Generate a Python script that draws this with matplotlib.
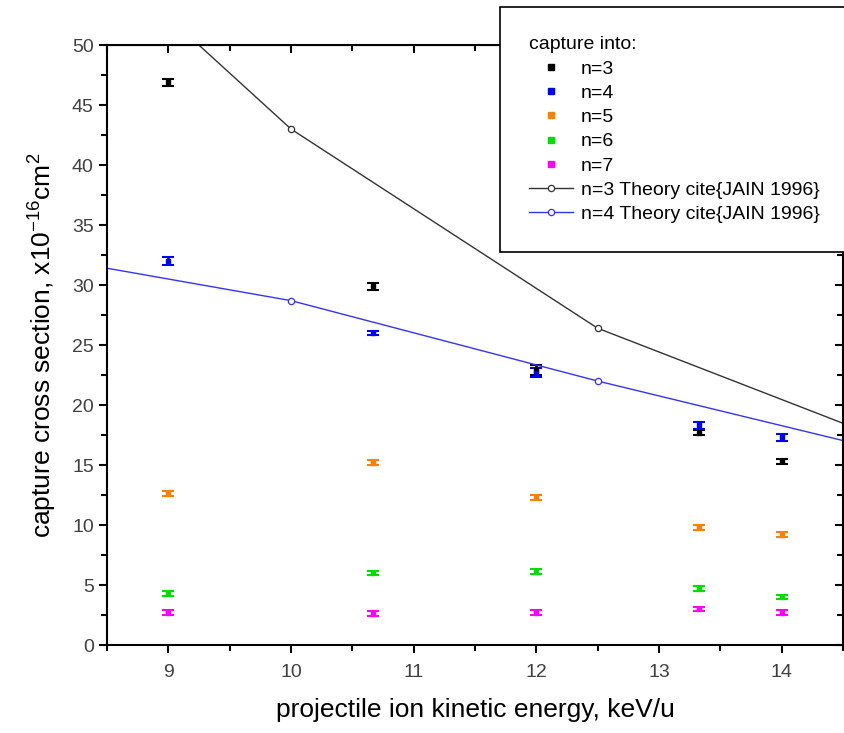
import numpy as np
import matplotlib.pyplot as plt
from matplotlib.lines import Line2D
from matplotlib.ticker import MultipleLocator

plt.rcParams['font.family'] = ['Liberation Sans', 'DejaVu Sans']

# energias medidas (keV/u)
energia = [9.0, 10.67, 12.0, 13.33, 14.0]

# secciones eficaces de captura, x10^-16 cm^2
sigma_n3 = [46.9, 29.9, 22.9, 17.7, 15.3]
sigma_n4 = [32.0, 26.0, 22.7, 18.3, 17.3]
sigma_n5 = [12.6, 15.2, 12.3, 9.8, 9.2]
sigma_n6 = [4.3, 6.0, 6.1, 4.7, 4.0]
sigma_n7 = [2.7, 2.6, 2.7, 3.0, 2.7]

err_n3 = [0.3, 0.3, 0.4, 0.2, 0.2]
err_n4 = [0.3, 0.2, 0.4, 0.3, 0.3]
err_n5 = [0.2, 0.2, 0.2, 0.2, 0.2]
err_n6 = [0.2, 0.2, 0.2, 0.2, 0.2]
err_n7 = [0.2, 0.2, 0.2, 0.2, 0.2]

# teoria (JAIN 1996)
energia_teo = [7.5, 10.0, 12.5, 15.0]
teo_n3 = [66.3, 43.0, 26.4, 16.5]
teo_n4 = [33.2, 28.7, 22.0, 15.8]

etiquetas = ['n=3', 'n=4', 'n=5', 'n=6', 'n=7']
colores = ['black', '#0000ff', '#ff7f00', '#00e000', '#ff00ff']

fig = plt.figure(figsize=(8.45, 7.33), dpi=100)
ax = fig.add_axes([0.1266, 0.12, 0.871, 0.8186])

series = [sigma_n3, sigma_n4, sigma_n5, sigma_n6, sigma_n7]
errores = [err_n3, err_n4, err_n5, err_n6, err_n7]
handles = []
for s, e, c, lab in zip(series, errores, colores, etiquetas):
    ax.errorbar(energia, s, yerr=e, fmt='s', color=c, ms=3, capsize=4.5,
                elinewidth=2, capthick=1.5)
    handles.append(Line2D([], [], ls='none', marker='s', ms=4.5, color=c))

l3, = ax.plot(energia_teo, teo_n3, '-o', color='#333333', lw=1, ms=4.5,
              mfc='white', mec='#333333', mew=0.9, label='n=3 Theory cite{JAIN 1996}')
l4, = ax.plot(energia_teo, teo_n4, '-o', color='#3333ff', lw=1, ms=4.5,
              mfc='white', mec='#3333ff', mew=0.9, label='n=4 Theory cite{JAIN 1996}')

ax.set_xlim(8.5, 14.5)
ax.set_ylim(0, 50)
ax.xaxis.set_major_locator(MultipleLocator(1))
ax.xaxis.set_minor_locator(MultipleLocator(0.5))
ax.yaxis.set_major_locator(MultipleLocator(5))
ax.yaxis.set_minor_locator(MultipleLocator(2.5))

for lado in ax.spines.values():
    lado.set_linewidth(1.5)
ax.tick_params(which='both', bottom=True, left=True, direction='out', width=1.5,
               labelsize=14, labelcolor='#404040')
ax.tick_params(which='major', length=6)
ax.tick_params(which='minor', length=4)
ax.tick_params(axis='x', pad=8)
# ticks interiores en los ejes espejo
ax2 = ax.secondary_xaxis('top')
ax2.xaxis.set_major_locator(MultipleLocator(1))
ax2.xaxis.set_minor_locator(MultipleLocator(0.5))
ax2.tick_params(which='both', direction='in', width=1.5, labeltop=False)
ax2.tick_params(which='major', length=6)
ax2.tick_params(which='minor', length=4)
ax3 = ax.secondary_yaxis('right')
ax3.yaxis.set_major_locator(MultipleLocator(5))
ax3.yaxis.set_minor_locator(MultipleLocator(2.5))
ax3.tick_params(which='both', direction='in', width=1.5, labelright=False)
ax3.tick_params(which='major', length=6)
ax3.tick_params(which='minor', length=4)

ax.set_xlabel('projectile ion kinetic energy, keV/u', fontsize=19, labelpad=12)
ax.set_ylabel(r'capture cross section, x10$^{\mathregular{-16}}$cm$^{\mathregular{2}}$',
              fontsize=19, labelpad=10)

leg = fig.legend(handles + [l3, l4], etiquetas + [l3.get_label(), l4.get_label()],
                 title='capture into:', alignment='left',
                 loc='upper right', bbox_to_anchor=(1.005, 0.99),
                 fontsize=14, title_fontsize=14, fancybox=False, framealpha=1,
                 edgecolor='black', borderpad=1.5, handlelength=2.3,
                 handletextpad=0.4, labelspacing=0.34, borderaxespad=0)
leg.get_frame().set_linewidth(1.2)
leg.set_zorder(10)

fig.savefig('out.png', dpi=100)
